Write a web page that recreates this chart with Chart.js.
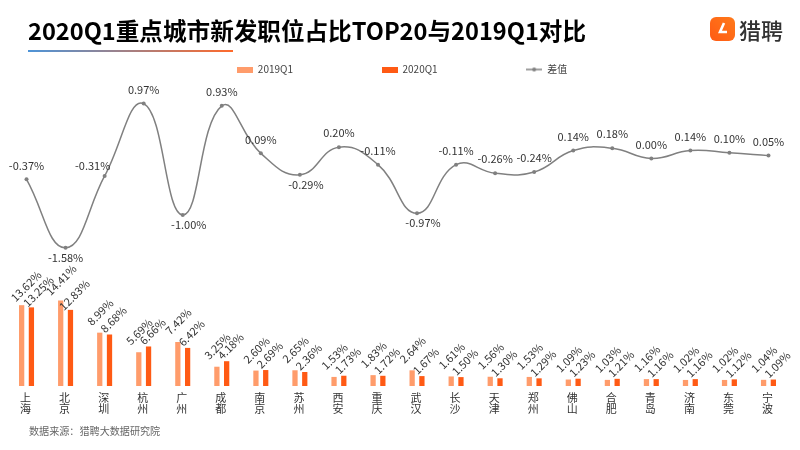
<!DOCTYPE html>
<html><head><meta charset="utf-8">
<style>
html,body{margin:0;padding:0;background:#fff;width:800px;height:450px;overflow:hidden;font-family:"Noto Sans CJK SC",sans-serif}
#wrap{position:relative;width:800px;height:450px}
canvas#c{position:absolute;left:0;top:0}
#title{position:absolute;left:28px;top:14px;font-size:23.6px;font-weight:700;color:#000;line-height:32px;white-space:nowrap}
#rule{position:absolute;left:28px;top:50px;width:205px;height:2px;background:linear-gradient(90deg,#4d94d8,#ff6a2b)}
#src{position:absolute;left:29px;top:423px;font-size:10.1px;color:#666;line-height:16px}
#brandText{position:absolute;left:739px;top:13px;font-size:22px;line-height:32px;color:#333;font-weight:500;white-space:nowrap}
#logo{position:absolute;left:710px;top:17px}
</style></head><body><div id="wrap">
<canvas id="c" width="800" height="450"></canvas>
<div id="title">2020Q1重点城市新发职位占比TOP20与2019Q1对比</div>
<div id="rule"></div>
<div id="logo"><svg width="25" height="24" viewBox="0 0 25 24"><defs><linearGradient id="lg" x1="0" y1="1" x2="1" y2="0"><stop offset="0" stop-color="#ff5a14"/><stop offset="1" stop-color="#ff7a1a"/></linearGradient></defs><rect width="25" height="24" rx="6" fill="url(#lg)"/><path d="M14 6 L10 15 L17 15" fill="none" stroke="#fff" stroke-width="2.6"/></svg></div>
<div id="brandText">猎聘</div>
<div id="src">数据来源：猎聘大数据研究院</div>
</div>
<script src="https://cdn.jsdelivr.net/npm/chart.js@4"></script>
<script>
const cities=["上海","北京","深圳","杭州","广州","成都","南京","苏州","西安","重庆","武汉","长沙","天津","郑州","佛山","合肥","青岛","济南","东莞","宁波"];
const q2019=[13.62,14.41,8.99,5.69,7.42,3.25,2.60,2.65,1.53,1.83,2.64,1.61,1.56,1.53,1.09,1.03,1.16,1.02,1.02,1.04];
const q2020=[13.25,12.83,8.68,6.66,6.42,4.18,2.69,2.36,1.73,1.72,1.67,1.50,1.30,1.29,1.23,1.21,1.16,1.16,1.12,1.09];
const diff=[-0.37,-1.58,-0.31,0.97,-1.00,0.93,0.09,-0.29,0.20,-0.11,-0.97,-0.11,-0.26,-0.24,0.14,0.18,0.00,0.14,0.10,0.05];

const C19="#ff9c6b",C20="#ff5a14",CL="#808080";
const LEGEND_GAP=88.5;
function swatch(color,line){
  const s=document.createElement('canvas');s.width=16;s.height=6;
  const g=s.getContext('2d');
  if(line){g.strokeStyle=color;g.lineWidth=1.5;g.beginPath();g.moveTo(0,3);g.lineTo(16,3);g.stroke();g.fillStyle=color;g.beginPath();g.arc(8,3,2,0,7);g.fill();}
  else{g.fillStyle=color;g.fillRect(0,0,16,6);}
  return s;
}
const legendFit={id:'legendFit',beforeLayout(ch){
  const l=ch.legend;
  if(l&&!l.__wrapped){
    l.__wrapped=true;
    const f=l.fit;l.fit=function(){f.call(this);this.height=LEGEND_GAP+16.5;};
    const d=l.draw;l.draw=function(){ch.ctx.save();ch.ctx.translate(4.5,0);d.apply(this,arguments);ch.ctx.restore();};
  }
}};
const labelPlugin={id:'labels',afterDatasetsDraw(ch){
  const g=ch.ctx;g.save();g.fillStyle='#333';g.font='11px "Noto Sans CJK SC"';g.textBaseline='middle';g.textAlign='center';
  [[0,q2019,0.5,-20.5,4.5,-19],[1,q2020,4,-15,7,-16]].forEach(([d,vals,dx,dy,fx,fy])=>{
    ch.getDatasetMeta(d).data.forEach((b,i)=>{
      g.save();g.translate(b.x+(i===0?fx:dx),b.y+(i===0?fy:dy));g.rotate(-Math.PI/4);
      g.fillText(vals[i].toFixed(2)+'%',0,0);g.restore();
    });
  });
  const nudgeX={2:-12,4:6,7:6,10:6};
  ch.getDatasetMeta(2).data.forEach((p,i)=>{
    const below=[1,4,7,10].includes(i);
    const dy=below?10:(i===2?-10:-14);
    g.fillText(diff[i].toFixed(2)+'%',p.x+(nudgeX[i]||0),p.y+dy);
  });
  g.restore();
}};
new Chart(document.getElementById('c'),{
  data:{labels:cities.map(c=>c.split('')),datasets:[
    {type:'bar',label:'2019Q1',data:q2019,backgroundColor:C19,yAxisID:'y',categoryPercentage:0.5,barPercentage:0.54,order:2},
    {type:'bar',label:'2020Q1',data:q2020,backgroundColor:C20,yAxisID:'y',categoryPercentage:0.5,barPercentage:0.54,order:2},
    {type:'line',label:'差值',data:diff,borderColor:CL,backgroundColor:CL,borderWidth:1.5,pointRadius:2,pointBackgroundColor:CL,pointBorderWidth:0,tension:0.45,yAxisID:'y1',order:1}
  ]},
  options:{responsive:false,animation:false,
    layout:{padding:{top:-24,left:7,right:12,bottom:30}},
    plugins:{tooltip:{enabled:false},title:{display:false},
      legend:{position:'top',align:'center',labels:{
        usePointStyle:true,pointStyleWidth:16,boxHeight:6,padding:LEGEND_GAP,color:'#444',font:{size:10,family:'"Noto Sans CJK SC"'},
        generateLabels(ch){return ch.data.datasets.map((d,i)=>({text:d.label,datasetIndex:i,fontColor:'#444',lineWidth:0,pointStyle:swatch(d.type==='line'?CL:d.backgroundColor,d.type==='line')}));}
      }}
    },
    scales:{
      x:{offset:true,grid:{display:false,drawTicks:false},border:{display:false},ticks:{color:'#333',labelOffset:-1,font:{size:11,family:'"Noto Sans CJK SC"',lineHeight:1},maxRotation:0,minRotation:0,autoSkip:false,padding:6}},
      y:{display:false,min:0,max:51.4,afterFit(a){a.width=0}},
      y1:{display:false,min:-4.025,max:1.37,position:'right',afterFit(a){a.width=0}}
    }
  },plugins:[legendFit,labelPlugin]
});
</script></body></html>
